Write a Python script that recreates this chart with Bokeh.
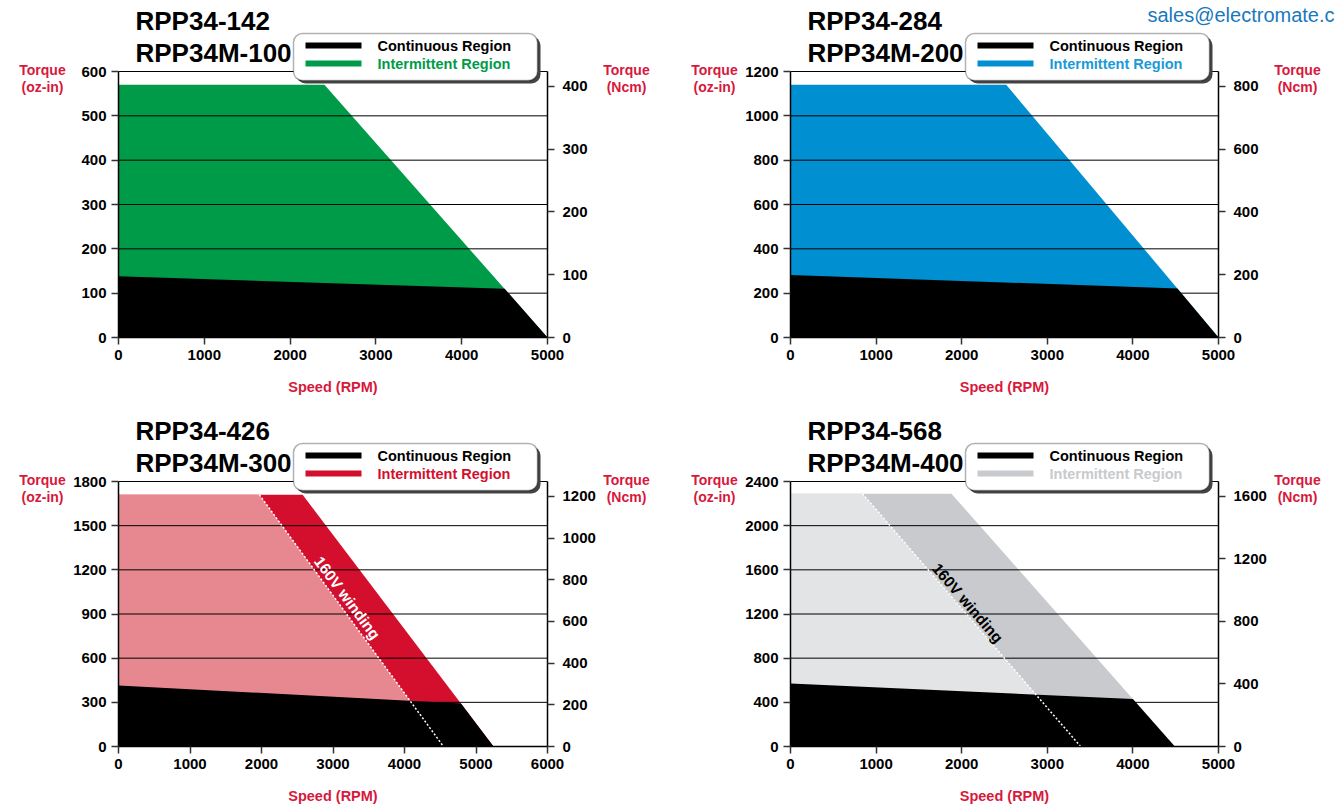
from bokeh.plotting import figure
from bokeh.models import Range1d, LinearAxis, FixedTicker, Label, BoxAnnotation
from bokeh.layouts import column, row
from bokeh.embed import file_html
from bokeh.resources import INLINE

# ---------------- data (speed in RPM, torque in oz-in) ----------------
OZIN_TO_NCM = 0.70616

tl_int_speed = [0, 2400, 5000]
tl_int_torque = [570, 570, 0]
tl_cont_speed = [0, 4500, 5000]
tl_cont_torque = [138, 110, 0]

tr_int_speed = [0, 2520, 5000]
tr_int_torque = [1140, 1140, 0]
tr_cont_speed = [0, 4520, 5000]
tr_cont_torque = [282, 221, 0]

bl_int_speed = [0, 2575, 5245]
bl_int_torque = [1710, 1710, 0]
bl_160_speed = [0, 1970, 4545]
bl_160_torque = [1710, 1710, 0]
bl_cont_speed = [0, 4790, 5245]
bl_cont_torque = [415, 292, 0]

br_int_speed = [0, 1880, 4490]
br_int_torque = [2290, 2290, 0]
br_160_speed = [0, 840, 3390]
br_160_torque = [2290, 2290, 0]
br_cont_speed = [0, 4000, 4490]
br_cont_torque = [570, 430, 0]

tl_titles = ["RPP34-142", "RPP34M-100"]
tr_titles = ["RPP34-284", "RPP34M-200"]
bl_titles = ["RPP34-426", "RPP34M-300"]
br_titles = ["RPP34-568", "RPP34M-400"]

tl_xticks = [0, 1000, 2000, 3000, 4000, 5000]
tl_yticks = [0, 100, 200, 300, 400, 500, 600]
tl_rticks = [0, 100, 200, 300, 400]
tr_xticks = [0, 1000, 2000, 3000, 4000, 5000]
tr_yticks = [0, 200, 400, 600, 800, 1000, 1200]
tr_rticks = [0, 200, 400, 600, 800]
bl_xticks = [0, 1000, 2000, 3000, 4000, 5000, 6000]
bl_yticks = [0, 300, 600, 900, 1200, 1500, 1800]
bl_rticks = [0, 200, 400, 600, 800, 1000, 1200]
br_xticks = [0, 1000, 2000, 3000, 4000, 5000]
br_yticks = [0, 400, 800, 1200, 1600, 2000, 2400]
br_rticks = [0, 400, 800, 1200, 1600]

FONT = "Liberation Sans"
RED = "#d7193c"

# chart region inside each figure (pixels)
LEFT = 118
TOP = 71


def style_axis(ax):
    ax.major_tick_out = 7
    ax.major_tick_in = 0
    ax.minor_tick_line_color = None
    ax.axis_line_color = "black"
    ax.axis_line_width = 1.5
    ax.major_tick_line_color = "#333333"
    ax.major_tick_line_width = 1.5
    ax.major_label_text_font = FONT
    ax.major_label_text_font_style = "bold"
    ax.major_label_text_font_size = "15px"
    ax.major_label_text_color = "black"


def make_panel(titles, xticks, yticks, rticks, int_s, int_t, cont_s, cont_t,
               int_color, legend_color, width, height, fw, fh,
               v_s=None, v_t=None, v_color=None, v_label=None, email=False):
    xmax = xticks[-1]
    ymax = yticks[-1]
    kx = xmax / fw
    ky = ymax / fh

    def X(px):
        return px * kx

    def Y(py):
        return py * ky

    x_lo = -LEFT * kx
    x_hi = x_lo + width * kx
    y_lo = -(height - TOP - fh) * ky
    y_hi = y_lo + height * ky

    p = figure(width=width, height=height,
               x_range=Range1d(x_lo, x_hi), y_range=Range1d(y_lo, y_hi),
               x_axis_type=None, y_axis_type=None,
               output_backend="svg", toolbar_location=None,
               min_border=0, min_border_left=0, min_border_right=0,
               min_border_top=0, min_border_bottom=0)
    p.outline_line_color = None
    p.background_fill_color = "white"
    p.border_fill_color = "white"
    p.grid.visible = False
    p.extra_y_ranges = {"ncm": Range1d(y_lo * OZIN_TO_NCM, y_hi * OZIN_TO_NCM)}

    xaxis = LinearAxis(fixed_location=0, bounds=(0, xmax),
                       ticker=FixedTicker(ticks=xticks))
    yaxis = LinearAxis(fixed_location=0, bounds=(0, ymax),
                       ticker=FixedTicker(ticks=yticks))
    raxis = LinearAxis(fixed_location=xmax, y_range_name="ncm",
                       bounds=(0, ymax * OZIN_TO_NCM),
                       ticker=FixedTicker(ticks=rticks))
    for ax in (xaxis, yaxis, raxis):
        style_axis(ax)
    raxis.major_label_standoff = 8
    xaxis.axis_label = "Speed (RPM)"
    xaxis.axis_label_text_font = FONT
    xaxis.axis_label_text_font_style = "bold"
    xaxis.axis_label_text_font_size = "14.5px"
    xaxis.axis_label_text_color = RED
    xaxis.axis_label_standoff = 16

    # filled regions
    p.patch(int_s + [0], int_t + [0], fill_color=int_color, line_color=None)
    if v_s is not None:
        p.patch(v_s + [0], v_t + [0], fill_color=v_color, line_color=None)
    p.patch(cont_s + [0], cont_t + [0], fill_color="black", line_color=None)

    # horizontal grid lines at the torque ticks
    n = len(yticks)
    p.segment(x0=[0] * n, y0=yticks, x1=[xmax] * n, y1=yticks,
              line_color="black", line_width=1)

    if v_s is not None:
        p.line(v_s[1:], v_t[1:], line_color="white", line_width=1.5,
               line_dash="2 2")
        lx, ly, lang, lcol = v_label
        p.add_layout(Label(x=lx, y=ly, text="160V winding", angle=lang,
                           text_align="center", text_baseline="middle",
                           text_font=FONT, text_font_style="bold",
                           text_font_size="15.5px", text_color=lcol))

    p.add_layout(xaxis, "below")
    p.add_layout(yaxis, "left")
    p.add_layout(raxis, "right")

    # titles
    p.add_layout(Label(x=X(17), y=Y(fh + 51), text=titles[0],
                       text_baseline="middle", text_font=FONT,
                       text_font_style="bold", text_font_size="26px",
                       text_color="black"))
    p.add_layout(Label(x=X(17), y=Y(fh + 19), text=titles[1],
                       text_baseline="middle", text_font=FONT,
                       text_font_style="bold", text_font_size="26px",
                       text_color="black"))

    # axis captions
    for cx, lines in ((-76, ["Torque", "(oz-in)"]), (fw + 79, ["Torque", "(Ncm)"])):
        for i, t in enumerate(lines):
            p.add_layout(Label(x=X(cx), y=Y(fh + 2 - 17 * i), text=t,
                               text_align="center", text_baseline="middle",
                               text_font=FONT, text_font_style="bold",
                               text_font_size="14px", text_color=RED))

    # legend box
    p.add_layout(BoxAnnotation(left=X(178), right=X(422), top=Y(fh + 35),
                               bottom=Y(fh - 12), fill_color="#444444",
                               fill_alpha=1, line_color=None, border_radius=9))
    p.add_layout(BoxAnnotation(left=X(175), right=X(419), top=Y(fh + 38),
                               bottom=Y(fh - 9), fill_color="white",
                               fill_alpha=1, line_color="black",
                               line_width=1.5, border_radius=9))
    p.add_layout(BoxAnnotation(left=X(187), right=X(243), top=Y(fh + 29),
                               bottom=Y(fh + 23), fill_color="black",
                               fill_alpha=1, line_color=None))
    p.add_layout(BoxAnnotation(left=X(187), right=X(243), top=Y(fh + 11),
                               bottom=Y(fh + 5), fill_color=int_color,
                               fill_alpha=1, line_color=None))
    p.add_layout(Label(x=X(259), y=Y(fh + 26), text="Continuous Region",
                       text_baseline="middle", text_font=FONT,
                       text_font_style="bold", text_font_size="14.5px",
                       text_color="black"))
    p.add_layout(Label(x=X(259), y=Y(fh + 8), text="Intermittent Region",
                       text_baseline="middle", text_font=FONT,
                       text_font_style="bold", text_font_size="14.5px",
                       text_color=legend_color))

    if email:
        p.add_layout(Label(x=X(357), y=Y(fh + 57), text="sales@electromate.c",
                           text_baseline="middle", text_font=FONT,
                           text_font_size="20px", text_color="#1a78bd"))
    return p


p1 = make_panel(tl_titles, tl_xticks, tl_yticks, tl_rticks,
                tl_int_speed, tl_int_torque, tl_cont_speed, tl_cont_torque,
                "#009b48", "#009b48", 672, 410, 429, 266)
p2 = make_panel(tr_titles, tr_xticks, tr_yticks, tr_rticks,
                tr_int_speed, tr_int_torque, tr_cont_speed, tr_cont_torque,
                "#008fd0", "#1a9ad6", 666, 410, 428, 266, email=True)
p3 = make_panel(bl_titles, bl_xticks, bl_yticks, bl_rticks,
                bl_int_speed, bl_int_torque, bl_cont_speed, bl_cont_torque,
                "#d40f2e", "#d40f2e", 672, 398, 429, 265,
                v_s=bl_160_speed, v_t=bl_160_torque, v_color="#e78891",
                v_label=(3200, 1010, -0.93, "white"))
p4 = make_panel(br_titles, br_xticks, br_yticks, br_rticks,
                br_int_speed, br_int_torque, br_cont_speed, br_cont_torque,
                "#c8cacd", "#c8cacd", 666, 398, 428, 265,
                v_s=br_160_speed, v_t=br_160_torque, v_color="#e3e4e6",
                v_label=(2070, 1300, -0.86, "black"))

layout = column(row(p1, p2), row(p3, p4))
open("out.html", "w").write(file_html(layout, INLINE))
